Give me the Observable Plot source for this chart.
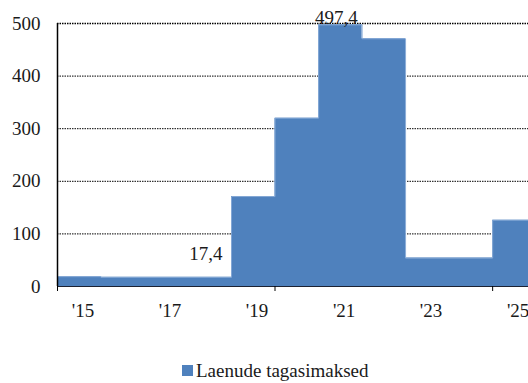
<!DOCTYPE html>
<html>
<head>
<meta charset="utf-8">
<script src="https://cdn.jsdelivr.net/npm/d3@7"></script>
<script src="https://cdn.jsdelivr.net/npm/@observablehq/plot@0.6"></script>
<style>
  body { margin: 0; background: #fff; font-family: 'Liberation Serif', 'Times New Roman', serif; }
  #chart { position: relative; width: 528px; height: 383px; overflow: hidden; }
  .legend { position: absolute; left: 182px; top: 361px; display: flex; align-items: center;
            font-size: 19px; line-height: 19px; color: #1a1a1a; white-space: nowrap; }
  .legend .sw { width: 11px; height: 11px; background: #4f81bd; margin-right: 3px; }
</style>
</head>
<body>
<div id="chart"></div>
<script>
// Loan repayments by period (each period runs from its start to the next start)
const periodStarts = ["2014-06-01", "2015-06-01", "2018-06-01", "2019-06-01", "2020-06-01",
                      "2021-06-01", "2022-06-01", "2024-06-01"];
const lastPeriodEnd = "2025-06-01";
const repayments = [18.7, 17.4, 171, 320, 497.4, 471, 54, 126];

// Periods whose value is written on the chart
const labelledPeriods = [1, 4];

// Axis ticks
const labelYears = [2015, 2017, 2019, 2021, 2023, 2025];
const yearLabels = ["'15", "'17", "'19", "'21", "'23", "'25"];
const tickMarks = ["2014-06-01", "2019-06-01", "2024-06-01"];
const yTicks = [0, 100, 200, 300, 400, 500];
const gridValues = [100, 200, 300, 400];
const topGrid = [500];

const seriesName = "Laenude tagasimaksed";

const blue = "#4f81bd";
const ink = "#1a1a1a";
const serif = "'Liberation Serif', 'Times New Roman', serif";

// Step points: one per period start, plus the closing edge of the last period
const steps = periodStarts.map((d, i) => ({date: new Date(d), value: repayments[i]}));
steps.push({date: new Date(lastPeriodEnd), value: repayments[repayments.length - 1]});

const periods = periodStarts.map((d, i) => ({
  start: new Date(d),
  end: new Date(i + 1 < periodStarts.length ? periodStarts[i + 1] : lastPeriodEnd),
  value: repayments[i]
}));
const fmt = v => v.toFixed(1).replace(".", ",");

const lowLabel = periods[labelledPeriods[0]];
const peakLabel = periods[labelledPeriods[1]];

const chart = Plot.plot({
  width: 528,
  height: 340,
  marginLeft: 57,
  marginRight: 0,
  marginTop: 23,
  marginBottom: 54,
  style: {fontFamily: serif, fontSize: "19px", color: ink, background: "#fff"},
  x: {type: "utc", domain: [new Date("2014-06-01"), new Date("2025-03-29")]},
  y: {domain: [0, 500]},
  marks: [
    Plot.ruleY(gridValues, {stroke: "#000", strokeWidth: 1, strokeDasharray: "1.5,1"}),
    Plot.ruleY(topGrid, {stroke: "#000", strokeWidth: 1.6, strokeDasharray: "1.5,1"}),
    Plot.areaY(steps, {x: "date", y: "value", curve: "step-after", fill: blue, clip: true}),
    Plot.lineY(steps, {x: "date", y: "value", curve: "step-after", stroke: "#86a9d6", strokeWidth: 1, clip: true}),
    Plot.ruleY([0], {stroke: "#1c2233", strokeWidth: 1.2}),
    Plot.ruleX([new Date("2014-06-01")], {y1: 0, y2: 500, stroke: "#000", strokeWidth: 1.5}),
    Plot.axisX(tickMarks.map(d => new Date(d)), {tickSize: 5, text: null, stroke: "#000", label: null}),
    Plot.axisX(labelYears.map(y => new Date(Date.UTC(y, 0, 1))), {
      tickSize: 0, tickPadding: 17, fill: ink, fontSize: 19, fontFamily: serif, label: null,
      tickFormat: d => yearLabels[labelYears.indexOf(d.getUTCFullYear())]
    }),
    Plot.axisY(yTicks, {tickSize: 0, tickPadding: 17, fill: ink, fontSize: 19, fontFamily: serif, label: null}),
    Plot.text([lowLabel], {
      x: "end", y: "value", text: d => fmt(d.value), fontFamily: serif,
      textAnchor: "end", lineAnchor: "bottom", dx: -9, dy: -17.5, fill: ink, fontSize: 19
    }),
    Plot.text([peakLabel], {
      x: d => new Date((+d.start + +d.end) / 2), y: "value", text: d => fmt(d.value), fontFamily: serif,
      lineAnchor: "bottom", dx: -4, dy: -1, fill: ink, fontSize: 19
    })
  ]
});

const root = document.getElementById("chart");
root.appendChild(chart);

const legend = document.createElement("div");
legend.className = "legend";
const sw = document.createElement("span");
sw.className = "sw";
const lab = document.createElement("span");
lab.textContent = seriesName;
legend.append(sw, lab);
root.appendChild(legend);
</script>
</body>
</html>
